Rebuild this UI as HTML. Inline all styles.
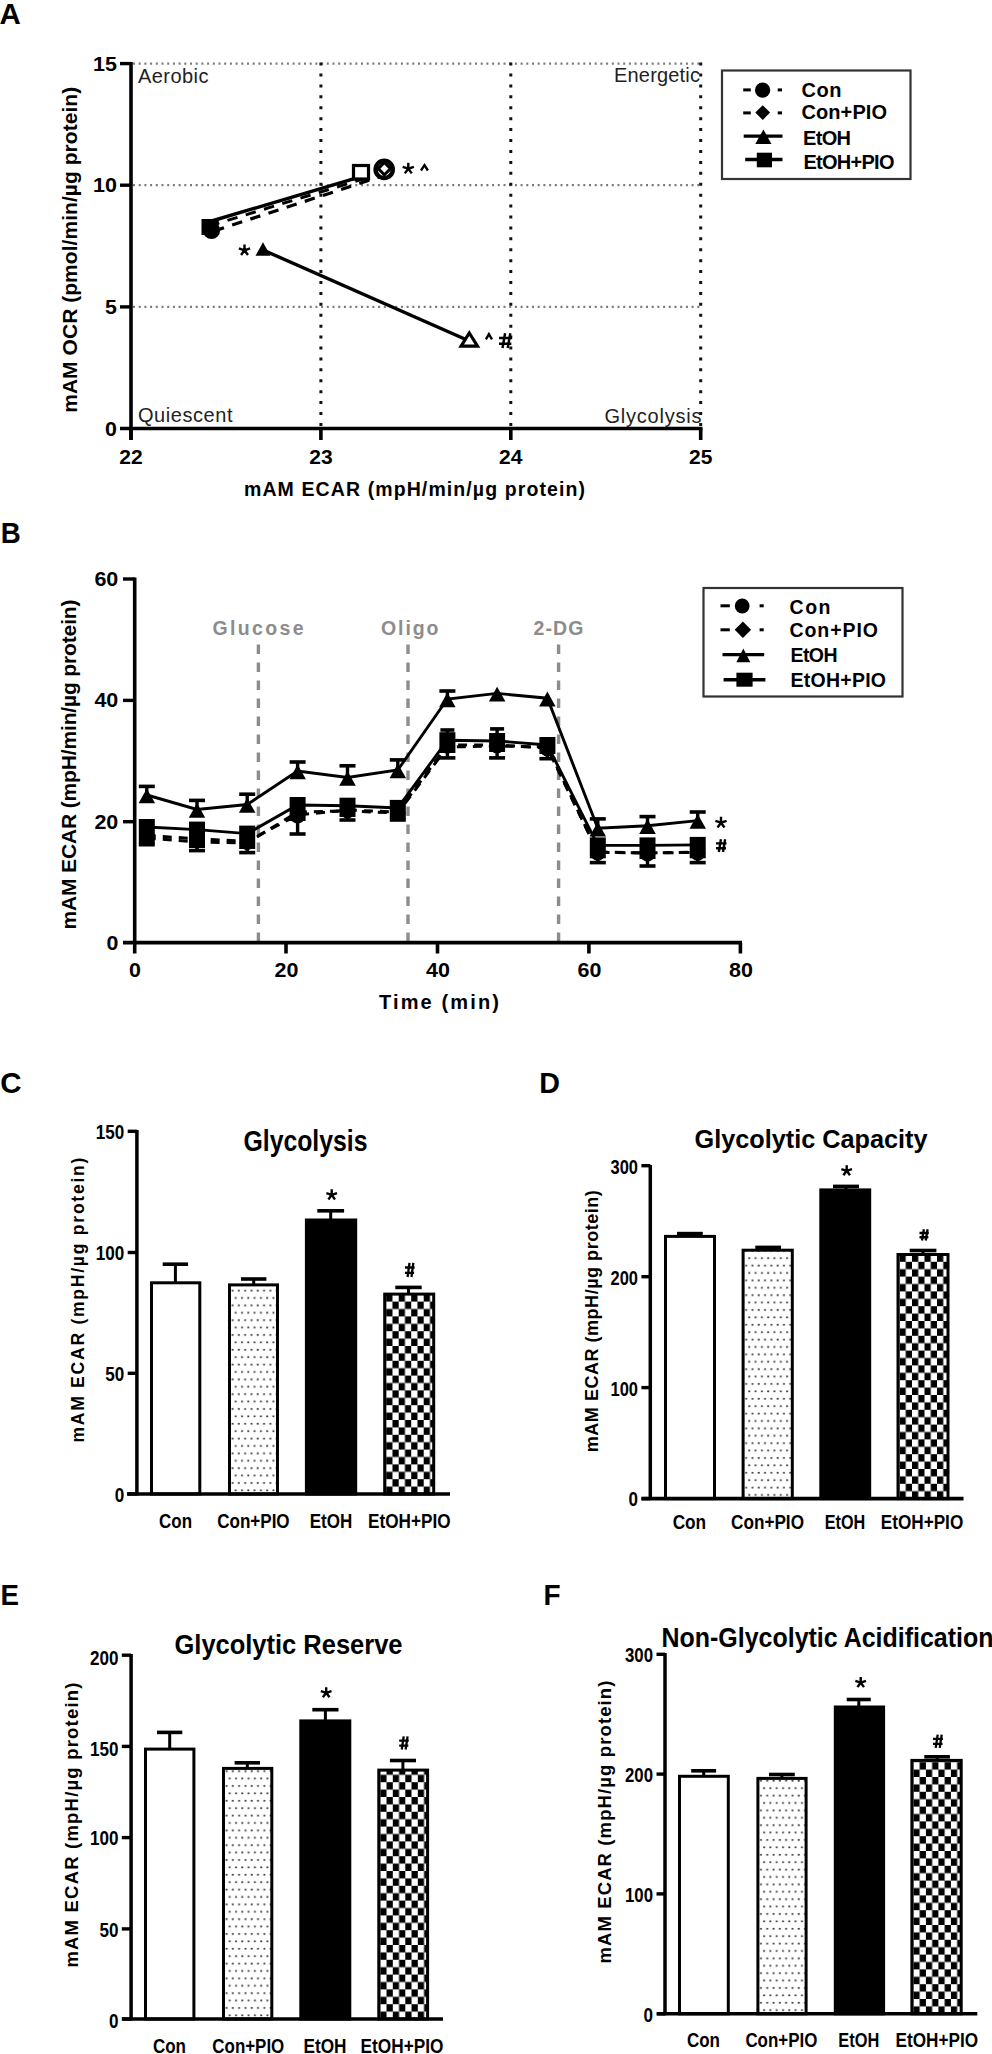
<!DOCTYPE html><html><head><meta charset="utf-8"><style>html,body{margin:0;padding:0;background:#fff;overflow:hidden}svg{display:block}text{font-family:"Liberation Sans",sans-serif;font-weight:bold}</style></head><body><svg width="992" height="2054" viewBox="0 0 992 2054"><defs><pattern id="pd1" patternUnits="userSpaceOnUse" x="231.00" y="1494.00" width="6.3" height="14.8"><rect x="0.6" y="2.9" width="1.9" height="1.7" fill="#3a3a3a"/><rect x="3.75" y="10.3" width="1.9" height="1.7" fill="#3a3a3a"/></pattern><pattern id="pc2" patternUnits="userSpaceOnUse" x="386.20" y="1494.00" width="12.5" height="14.8"><rect width="12.5" height="14.8" fill="#fff"/><rect x="6.25" y="0" width="6.25" height="7.4" fill="#000"/><rect x="0" y="7.4" width="6.25" height="7.4" fill="#000"/></pattern><pattern id="pd3" patternUnits="userSpaceOnUse" x="744.60" y="1498.60" width="6.3" height="14.8"><rect x="0.6" y="2.9" width="1.9" height="1.7" fill="#3a3a3a"/><rect x="3.75" y="10.3" width="1.9" height="1.7" fill="#3a3a3a"/></pattern><pattern id="pc4" patternUnits="userSpaceOnUse" x="899.50" y="1498.60" width="12.5" height="14.8"><rect width="12.5" height="14.8" fill="#fff"/><rect x="6.25" y="0" width="6.25" height="7.4" fill="#000"/><rect x="0" y="7.4" width="6.25" height="7.4" fill="#000"/></pattern><pattern id="pd5" patternUnits="userSpaceOnUse" x="225.00" y="2019.00" width="6.3" height="14.8"><rect x="0.6" y="2.9" width="1.9" height="1.7" fill="#3a3a3a"/><rect x="3.75" y="10.3" width="1.9" height="1.7" fill="#3a3a3a"/></pattern><pattern id="pc6" patternUnits="userSpaceOnUse" x="380.30" y="2019.00" width="12.5" height="14.8"><rect width="12.5" height="14.8" fill="#fff"/><rect x="6.25" y="0" width="6.25" height="7.4" fill="#000"/><rect x="0" y="7.4" width="6.25" height="7.4" fill="#000"/></pattern><pattern id="pd7" patternUnits="userSpaceOnUse" x="759.40" y="2013.80" width="6.3" height="14.8"><rect x="0.6" y="2.9" width="1.9" height="1.7" fill="#3a3a3a"/><rect x="3.75" y="10.3" width="1.9" height="1.7" fill="#3a3a3a"/></pattern><pattern id="pc8" patternUnits="userSpaceOnUse" x="913.40" y="2013.80" width="12.5" height="14.8"><rect width="12.5" height="14.8" fill="#fff"/><rect x="6.25" y="0" width="6.25" height="7.4" fill="#000"/><rect x="0" y="7.4" width="6.25" height="7.4" fill="#000"/></pattern></defs><text x="-0.5" y="23.6" font-size="29.5" textLength="21.3" lengthAdjust="spacingAndGlyphs">A</text>
<text x="0.8" y="543.0" font-size="29.5" textLength="20.0" lengthAdjust="spacingAndGlyphs">B</text>
<text x="0.3" y="1093.0" font-size="29.5" textLength="21.3" lengthAdjust="spacingAndGlyphs">C</text>
<text x="539.2" y="1093.0" font-size="29.5" textLength="20.7" lengthAdjust="spacingAndGlyphs">D</text>
<text x="0.5" y="1605.3" font-size="29.5" textLength="18.5" lengthAdjust="spacingAndGlyphs">E</text>
<text x="543.5" y="1605.3" font-size="29.5" textLength="17.1" lengthAdjust="spacingAndGlyphs">F</text>
<line x1="133.0" y1="63.6" x2="701.0" y2="63.6" stroke="#7a7a7a" stroke-width="2.2" stroke-dasharray="2 3.7"/>
<line x1="133.0" y1="185.2" x2="701.0" y2="185.2" stroke="#7a7a7a" stroke-width="2.2" stroke-dasharray="2 3.7"/>
<line x1="133.0" y1="306.9" x2="701.0" y2="306.9" stroke="#7a7a7a" stroke-width="2.2" stroke-dasharray="2 3.7"/>
<line x1="320.9" y1="62.6" x2="320.9" y2="427.0" stroke="#111" stroke-width="3.0" stroke-dasharray="3.0 7.92"/>
<line x1="510.8" y1="62.6" x2="510.8" y2="427.0" stroke="#111" stroke-width="3.0" stroke-dasharray="3.0 7.92"/>
<line x1="700.7" y1="62.6" x2="700.7" y2="427.0" stroke="#111" stroke-width="3.0" stroke-dasharray="3.0 7.92"/>
<line x1="131.0" y1="62.0" x2="131.0" y2="440.0" stroke="#000" stroke-width="3.6"/>
<line x1="120.0" y1="428.5" x2="702.5" y2="428.5" stroke="#000" stroke-width="3.6"/>
<line x1="120.0" y1="63.6" x2="131.0" y2="63.6" stroke="#000" stroke-width="3.4"/>
<line x1="120.0" y1="185.2" x2="131.0" y2="185.2" stroke="#000" stroke-width="3.4"/>
<line x1="120.0" y1="306.9" x2="131.0" y2="306.9" stroke="#000" stroke-width="3.4"/>
<line x1="131.0" y1="428.5" x2="131.0" y2="440.0" stroke="#000" stroke-width="3.6"/>
<line x1="320.9" y1="428.5" x2="320.9" y2="440.0" stroke="#000" stroke-width="3.6"/>
<line x1="510.8" y1="428.5" x2="510.8" y2="440.0" stroke="#000" stroke-width="3.6"/>
<line x1="700.7" y1="428.5" x2="700.7" y2="440.0" stroke="#000" stroke-width="3.6"/>
<text x="117.0" y="70.6" font-size="19.5" text-anchor="end" textLength="23.9" lengthAdjust="spacingAndGlyphs">15</text>
<text x="117.0" y="192.2" font-size="19.5" text-anchor="end" textLength="23.9" lengthAdjust="spacingAndGlyphs">10</text>
<text x="117.0" y="313.9" font-size="19.5" text-anchor="end" textLength="11.9" lengthAdjust="spacingAndGlyphs">5</text>
<text x="117.0" y="435.5" font-size="19.5" text-anchor="end" textLength="11.9" lengthAdjust="spacingAndGlyphs">0</text>
<text x="131.0" y="464.0" font-size="19.5" text-anchor="middle" textLength="23.4" lengthAdjust="spacingAndGlyphs">22</text>
<text x="320.9" y="464.0" font-size="19.5" text-anchor="middle" textLength="23.4" lengthAdjust="spacingAndGlyphs">23</text>
<text x="510.8" y="464.0" font-size="19.5" text-anchor="middle" textLength="23.4" lengthAdjust="spacingAndGlyphs">24</text>
<text x="700.7" y="464.0" font-size="19.5" text-anchor="middle" textLength="23.4" lengthAdjust="spacingAndGlyphs">25</text>
<text x="138.0" y="83.0" font-size="20" style="font-weight:normal" fill="#222" textLength="70.5" lengthAdjust="spacing">Aerobic</text>
<text x="614.0" y="82.0" font-size="20" style="font-weight:normal" fill="#222" textLength="86.0" lengthAdjust="spacing">Energetic</text>
<text x="138.0" y="422.0" font-size="20" style="font-weight:normal" fill="#222" textLength="94.5" lengthAdjust="spacing">Quiescent</text>
<text x="604.5" y="422.5" font-size="20" style="font-weight:normal" fill="#222" textLength="97.0" lengthAdjust="spacing">Glycolysis</text>
<text x="244.0" y="496.0" font-size="19.5" textLength="341.0" lengthAdjust="spacing">mAM ECAR (mpH/min/µg protein)</text>
<text x="77.2" y="412.8" font-size="21" textLength="326.0" lengthAdjust="spacing" transform="rotate(-90 77.2 412.8)">mAM OCR (pmol/min/µg protein)</text>
<line x1="214.0" y1="231.0" x2="384.0" y2="175.5" stroke="#000" stroke-width="3.2" stroke-dasharray="10.5 8.6"/>
<line x1="213.0" y1="224.8" x2="368.0" y2="177.5" stroke="#000" stroke-width="3.0" stroke-dasharray="10.5 8.6" stroke-dashoffset="4"/>
<line x1="210.0" y1="221.5" x2="361.0" y2="176.6" stroke="#000" stroke-width="3.4"/>
<line x1="263.0" y1="250.0" x2="469.3" y2="341.0" stroke="#000" stroke-width="3.4"/>
<rect x="201.5" y="219.0" width="17.0" height="16.0" fill="#000"/>
<circle cx="211.5" cy="230.4" r="8.6" fill="#000"/>
<path d="M263.0 242.2L270.5 255.7L255.5 255.7Z" fill="#000"/>
<rect x="353.5" y="165.5" width="15.0" height="13.5" fill="#fff" stroke="#000" stroke-width="3.2"/>
<circle cx="384.2" cy="169.4" r="8.6" fill="#fff" stroke="#000" stroke-width="4.4"/>
<path d="M384.4 162.4L390.6 168.6L384.4 174.8L378.2 168.6Z" fill="none" stroke="#000" stroke-width="3.0"/>
<path d="M469.3 333L477.5 346.2L461.1 346.2Z" fill="#fff" stroke="#000" stroke-width="3.2" stroke-linejoin="miter"/>
<path d="M408.30 168.60L408.30 162.70M408.30 168.60L413.91 166.78M408.30 168.60L411.77 173.37M408.30 168.60L404.83 173.37M408.30 168.60L402.69 166.78" stroke="#000" stroke-width="2.4" fill="none" stroke-linecap="butt"/>
<circle cx="408.30" cy="168.60" r="2.16" fill="#000"/>
<path d="M421.0 170.5L424.5 165.2L427.9 170.5" stroke="#000" stroke-width="2.4" fill="none"/>
<path d="M244.50 250.30L244.50 244.40M244.50 250.30L250.11 248.48M244.50 250.30L247.97 255.07M244.50 250.30L241.03 255.07M244.50 250.30L238.89 248.48" stroke="#000" stroke-width="2.4" fill="none" stroke-linecap="butt"/>
<circle cx="244.50" cy="250.30" r="2.16" fill="#000"/>
<path d="M485.9 339.3L488.9 334.2L492.0 339.3" stroke="#000" stroke-width="2.4" fill="none"/>
<path d="M505.11 333.20L502.51 348.00M510.31 333.20L507.71 348.00M499.00 338.08L512.00 338.08M499.00 343.71L511.35 343.71" stroke="#000" stroke-width="2.5" fill="none"/>
<rect x="722.0" y="70.5" width="188.5" height="108.5" fill="#fff" stroke="#333" stroke-width="2.2"/>
<line x1="743.2" y1="89.9" x2="750.8" y2="89.9" stroke="#000" stroke-width="3"/>
<circle cx="762.6" cy="90.2" r="7.6" fill="#000"/>
<line x1="777.7" y1="89.9" x2="782.0" y2="89.9" stroke="#000" stroke-width="3"/>
<line x1="743.2" y1="112.9" x2="750.8" y2="112.9" stroke="#000" stroke-width="3"/>
<path d="M762.7 105.2L770.1 112.6L762.7 120.0L755.3 112.6Z" fill="#000"/>
<line x1="777.7" y1="112.9" x2="782.0" y2="112.9" stroke="#000" stroke-width="3"/>
<line x1="743.7" y1="136.1" x2="782.5" y2="136.1" stroke="#000" stroke-width="3.2"/>
<path d="M763.4 129.5L771.5 144L755.3 144Z" fill="#000"/>
<line x1="745.2" y1="159.5" x2="782.5" y2="159.5" stroke="#000" stroke-width="3.4"/>
<rect x="756.8" y="152.7" width="15.2" height="14.6" fill="#000"/>
<text x="801.5" y="96.5" font-size="20" textLength="40.0" lengthAdjust="spacing">Con</text>
<text x="801.5" y="119.0" font-size="20" textLength="85.5" lengthAdjust="spacing">Con+PIO</text>
<text x="803.0" y="145.0" font-size="20" textLength="48.0" lengthAdjust="spacing">EtOH</text>
<text x="803.5" y="168.5" font-size="20" textLength="91.0" lengthAdjust="spacing">EtOH+PIO</text>
<line x1="258.4" y1="644.5" x2="258.4" y2="941.0" stroke="#8c8c8c" stroke-width="3.4" stroke-dasharray="9.5 8.5"/>
<line x1="408.0" y1="644.5" x2="408.0" y2="941.0" stroke="#8c8c8c" stroke-width="3.4" stroke-dasharray="9.5 8.5"/>
<line x1="558.6" y1="644.5" x2="558.6" y2="941.0" stroke="#8c8c8c" stroke-width="3.4" stroke-dasharray="9.5 8.5"/>
<text x="212.5" y="635.0" font-size="19.5" fill="#8c8c8c" textLength="91.0" lengthAdjust="spacing">Glucose</text>
<text x="381.0" y="635.0" font-size="19.5" fill="#8c8c8c" textLength="57.5" lengthAdjust="spacing">Oligo</text>
<text x="533.5" y="635.0" font-size="19.5" fill="#8c8c8c" textLength="50.0" lengthAdjust="spacing">2-DG</text>
<line x1="134.7" y1="577.5" x2="134.7" y2="953.5" stroke="#000" stroke-width="3.6"/>
<line x1="123.0" y1="942.6" x2="742.0" y2="942.6" stroke="#000" stroke-width="3.6"/>
<line x1="123.0" y1="579.0" x2="134.7" y2="579.0" stroke="#000" stroke-width="3.4"/>
<line x1="123.0" y1="700.4" x2="134.7" y2="700.4" stroke="#000" stroke-width="3.4"/>
<line x1="123.0" y1="821.7" x2="134.7" y2="821.7" stroke="#000" stroke-width="3.4"/>
<line x1="286.0" y1="942.6" x2="286.0" y2="953.5" stroke="#000" stroke-width="3.6"/>
<line x1="437.5" y1="942.6" x2="437.5" y2="953.5" stroke="#000" stroke-width="3.6"/>
<line x1="588.9" y1="942.6" x2="588.9" y2="953.5" stroke="#000" stroke-width="3.6"/>
<line x1="740.4" y1="942.6" x2="740.4" y2="953.5" stroke="#000" stroke-width="3.6"/>
<text x="118.3" y="586.0" font-size="19.5" text-anchor="end" textLength="23.9" lengthAdjust="spacingAndGlyphs">60</text>
<text x="118.3" y="707.4" font-size="19.5" text-anchor="end" textLength="23.9" lengthAdjust="spacingAndGlyphs">40</text>
<text x="118.3" y="828.7" font-size="19.5" text-anchor="end" textLength="23.9" lengthAdjust="spacingAndGlyphs">20</text>
<text x="118.3" y="950.0" font-size="19.5" text-anchor="end" textLength="11.9" lengthAdjust="spacingAndGlyphs">0</text>
<text x="135.0" y="977.0" font-size="19.5" text-anchor="middle" textLength="11.9" lengthAdjust="spacingAndGlyphs">0</text>
<text x="286.5" y="977.0" font-size="19.5" text-anchor="middle" textLength="23.9" lengthAdjust="spacingAndGlyphs">20</text>
<text x="438.0" y="977.0" font-size="19.5" text-anchor="middle" textLength="23.9" lengthAdjust="spacingAndGlyphs">40</text>
<text x="589.4" y="977.0" font-size="19.5" text-anchor="middle" textLength="23.9" lengthAdjust="spacingAndGlyphs">60</text>
<text x="740.9" y="977.0" font-size="19.5" text-anchor="middle" textLength="23.9" lengthAdjust="spacingAndGlyphs">80</text>
<text x="379.0" y="1009.0" font-size="20" textLength="120.0" lengthAdjust="spacing">Time (min)</text>
<text x="76.2" y="929.5" font-size="21" textLength="330.0" lengthAdjust="spacing" transform="rotate(-90 76.2 929.5)">mAM ECAR (mpH/min/µg protein)</text>
<path d="M146.8 835.5 L197.0 838.8 L247.2 841.4 L297.6 815.0 L347.5 810.0 L397.8 812.0 L447.4 745.0 L497.1 745.0 L547.4 748.0 L597.8 852.3 L647.5 853.0 L697.7 852.3" fill="none" stroke="#000" stroke-width="3.0" stroke-dasharray="9 7"/>
<path d="M146.8 838.0 L197.0 842.0 L247.2 843.0 L297.6 812.0 L347.5 811.0 L397.8 813.0 L447.4 747.0 L497.1 746.0 L547.4 747.0 L597.8 852.0 L647.5 853.0 L697.7 852.0" fill="none" stroke="#000" stroke-width="3.0" stroke-dasharray="9 7"/>
<path d="M146.8 827.0 L197.0 829.6 L247.2 833.6 L297.6 805.0 L347.5 805.7 L397.8 807.9 L447.4 740.2 L497.1 741.0 L547.4 745.0 L597.8 845.4 L647.5 845.4 L697.7 844.9" fill="none" stroke="#000" stroke-width="2.9"/>
<path d="M146.8 795.0 L197.0 809.5 L247.2 804.5 L297.6 771.0 L347.5 777.5 L397.8 770.0 L447.4 699.0 L497.1 693.4 L547.4 698.2 L597.8 828.3 L647.5 825.7 L697.7 820.6" fill="none" stroke="#000" stroke-width="2.9"/>
<line x1="146.8" y1="827.0" x2="146.8" y2="844.7" stroke="#000" stroke-width="3.4"/>
<line x1="138.8" y1="844.7" x2="154.8" y2="844.7" stroke="#000" stroke-width="3.6"/>
<line x1="146.8" y1="795.0" x2="146.8" y2="786.4" stroke="#000" stroke-width="3.4"/>
<line x1="138.8" y1="786.4" x2="154.8" y2="786.4" stroke="#000" stroke-width="3.6"/>
<circle cx="146.8" cy="836.5" r="7.5" fill="#000"/>
<path d="M146.8 830.0L154.8 838.0L146.8 846.0L138.8 838.0Z" fill="#000"/>
<rect x="138.8" y="819.0" width="16.0" height="25.0" fill="#000"/>
<path d="M146.8 788.4L155.1 803.2L138.6 803.2Z" fill="#000"/>
<line x1="197.0" y1="829.6" x2="197.0" y2="850.6" stroke="#000" stroke-width="3.4"/>
<line x1="189.0" y1="850.6" x2="205.0" y2="850.6" stroke="#000" stroke-width="3.6"/>
<line x1="197.0" y1="809.5" x2="197.0" y2="800.4" stroke="#000" stroke-width="3.4"/>
<line x1="189.0" y1="800.4" x2="205.0" y2="800.4" stroke="#000" stroke-width="3.6"/>
<circle cx="197.0" cy="839.8" r="7.5" fill="#000"/>
<path d="M197.0 834.0L205.0 842.0L197.0 850.0L189.0 842.0Z" fill="#000"/>
<rect x="189.0" y="821.6" width="16.0" height="26.4" fill="#000"/>
<path d="M197.0 802.9L205.2 817.7L188.8 817.7Z" fill="#000"/>
<line x1="247.2" y1="833.6" x2="247.2" y2="852.6" stroke="#000" stroke-width="3.4"/>
<line x1="239.2" y1="852.6" x2="255.2" y2="852.6" stroke="#000" stroke-width="3.6"/>
<line x1="247.2" y1="804.5" x2="247.2" y2="794.2" stroke="#000" stroke-width="3.4"/>
<line x1="239.2" y1="794.2" x2="255.2" y2="794.2" stroke="#000" stroke-width="3.6"/>
<circle cx="247.2" cy="842.4" r="7.5" fill="#000"/>
<path d="M247.2 835.0L255.2 843.0L247.2 851.0L239.2 843.0Z" fill="#000"/>
<rect x="239.2" y="825.6" width="16.0" height="23.4" fill="#000"/>
<path d="M247.2 797.9L255.4 812.7L238.9 812.7Z" fill="#000"/>
<line x1="297.6" y1="805.0" x2="297.6" y2="834.0" stroke="#000" stroke-width="3.4"/>
<line x1="289.6" y1="834.0" x2="305.6" y2="834.0" stroke="#000" stroke-width="3.6"/>
<line x1="297.6" y1="771.0" x2="297.6" y2="762.0" stroke="#000" stroke-width="3.4"/>
<line x1="289.6" y1="762.0" x2="305.6" y2="762.0" stroke="#000" stroke-width="3.6"/>
<circle cx="297.6" cy="816.0" r="7.5" fill="#000"/>
<path d="M297.6 804.0L305.6 812.0L297.6 820.0L289.6 812.0Z" fill="#000"/>
<rect x="289.6" y="797.0" width="16.0" height="24.0" fill="#000"/>
<path d="M297.6 764.4L305.9 779.2L289.4 779.2Z" fill="#000"/>
<line x1="347.5" y1="805.7" x2="347.5" y2="820.0" stroke="#000" stroke-width="3.4"/>
<line x1="339.5" y1="820.0" x2="355.5" y2="820.0" stroke="#000" stroke-width="3.6"/>
<line x1="347.5" y1="777.5" x2="347.5" y2="765.8" stroke="#000" stroke-width="3.4"/>
<line x1="339.5" y1="765.8" x2="355.5" y2="765.8" stroke="#000" stroke-width="3.6"/>
<circle cx="347.5" cy="811.0" r="7.5" fill="#000"/>
<path d="M347.5 803.0L355.5 811.0L347.5 819.0L339.5 811.0Z" fill="#000"/>
<rect x="339.5" y="797.7" width="16.0" height="19.3" fill="#000"/>
<path d="M347.5 770.9L355.8 785.7L339.2 785.7Z" fill="#000"/>
<line x1="397.8" y1="807.9" x2="397.8" y2="820.0" stroke="#000" stroke-width="3.4"/>
<line x1="389.8" y1="820.0" x2="405.8" y2="820.0" stroke="#000" stroke-width="3.6"/>
<line x1="397.8" y1="770.0" x2="397.8" y2="759.9" stroke="#000" stroke-width="3.4"/>
<line x1="389.8" y1="759.9" x2="405.8" y2="759.9" stroke="#000" stroke-width="3.6"/>
<circle cx="397.8" cy="813.0" r="7.5" fill="#000"/>
<path d="M397.8 805.0L405.8 813.0L397.8 821.0L389.8 813.0Z" fill="#000"/>
<rect x="389.8" y="799.9" width="16.0" height="19.1" fill="#000"/>
<path d="M397.8 763.4L406.1 778.2L389.6 778.2Z" fill="#000"/>
<line x1="447.4" y1="740.2" x2="447.4" y2="757.9" stroke="#000" stroke-width="3.4"/>
<line x1="439.4" y1="757.9" x2="455.4" y2="757.9" stroke="#000" stroke-width="3.6"/>
<line x1="447.4" y1="699.0" x2="447.4" y2="691.0" stroke="#000" stroke-width="3.4"/>
<line x1="439.4" y1="691.0" x2="455.4" y2="691.0" stroke="#000" stroke-width="3.6"/>
<line x1="447.4" y1="740.2" x2="447.4" y2="730.0" stroke="#000" stroke-width="3.4"/>
<line x1="440.4" y1="730.0" x2="454.4" y2="730.0" stroke="#000" stroke-width="3.6"/>
<circle cx="447.4" cy="746.0" r="7.5" fill="#000"/>
<path d="M447.4 739.0L455.4 747.0L447.4 755.0L439.4 747.0Z" fill="#000"/>
<rect x="439.4" y="732.2" width="16.0" height="20.8" fill="#000"/>
<path d="M447.4 692.4L455.6 707.2L439.1 707.2Z" fill="#000"/>
<line x1="497.1" y1="741.0" x2="497.1" y2="757.9" stroke="#000" stroke-width="3.4"/>
<line x1="489.1" y1="757.9" x2="505.1" y2="757.9" stroke="#000" stroke-width="3.6"/>
<line x1="497.1" y1="741.0" x2="497.1" y2="728.9" stroke="#000" stroke-width="3.4"/>
<line x1="490.1" y1="728.9" x2="504.1" y2="728.9" stroke="#000" stroke-width="3.6"/>
<circle cx="497.1" cy="746.0" r="7.5" fill="#000"/>
<path d="M497.1 738.0L505.1 746.0L497.1 754.0L489.1 746.0Z" fill="#000"/>
<rect x="489.1" y="733.0" width="16.0" height="19.0" fill="#000"/>
<path d="M497.1 686.8L505.4 701.6L488.9 701.6Z" fill="#000"/>
<line x1="547.4" y1="745.0" x2="547.4" y2="758.7" stroke="#000" stroke-width="3.4"/>
<line x1="539.4" y1="758.7" x2="555.4" y2="758.7" stroke="#000" stroke-width="3.6"/>
<circle cx="547.4" cy="749.0" r="7.5" fill="#000"/>
<path d="M547.4 739.0L555.4 747.0L547.4 755.0L539.4 747.0Z" fill="#000"/>
<rect x="539.4" y="737.0" width="16.0" height="17.0" fill="#000"/>
<path d="M547.4 691.6L555.6 706.4L539.1 706.4Z" fill="#000"/>
<line x1="597.8" y1="845.4" x2="597.8" y2="862.6" stroke="#000" stroke-width="3.4"/>
<line x1="589.8" y1="862.6" x2="605.8" y2="862.6" stroke="#000" stroke-width="3.6"/>
<line x1="597.8" y1="828.3" x2="597.8" y2="818.9" stroke="#000" stroke-width="3.4"/>
<line x1="589.8" y1="818.9" x2="605.8" y2="818.9" stroke="#000" stroke-width="3.6"/>
<circle cx="597.8" cy="853.3" r="7.5" fill="#000"/>
<path d="M597.8 844.0L605.8 852.0L597.8 860.0L589.8 852.0Z" fill="#000"/>
<rect x="589.8" y="837.4" width="16.0" height="20.9" fill="#000"/>
<path d="M597.8 821.7L606.0 836.5L589.5 836.5Z" fill="#000"/>
<line x1="647.5" y1="845.4" x2="647.5" y2="866.0" stroke="#000" stroke-width="3.4"/>
<line x1="639.5" y1="866.0" x2="655.5" y2="866.0" stroke="#000" stroke-width="3.6"/>
<line x1="647.5" y1="825.7" x2="647.5" y2="816.6" stroke="#000" stroke-width="3.4"/>
<line x1="639.5" y1="816.6" x2="655.5" y2="816.6" stroke="#000" stroke-width="3.6"/>
<circle cx="647.5" cy="854.0" r="7.5" fill="#000"/>
<path d="M647.5 845.0L655.5 853.0L647.5 861.0L639.5 853.0Z" fill="#000"/>
<rect x="639.5" y="837.4" width="16.0" height="21.6" fill="#000"/>
<path d="M647.5 819.1L655.8 833.9L639.2 833.9Z" fill="#000"/>
<line x1="697.7" y1="844.9" x2="697.7" y2="862.6" stroke="#000" stroke-width="3.4"/>
<line x1="689.7" y1="862.6" x2="705.7" y2="862.6" stroke="#000" stroke-width="3.6"/>
<line x1="697.7" y1="820.6" x2="697.7" y2="812.0" stroke="#000" stroke-width="3.4"/>
<line x1="689.7" y1="812.0" x2="705.7" y2="812.0" stroke="#000" stroke-width="3.6"/>
<circle cx="697.7" cy="853.3" r="7.5" fill="#000"/>
<path d="M697.7 844.0L705.7 852.0L697.7 860.0L689.7 852.0Z" fill="#000"/>
<rect x="689.7" y="836.9" width="16.0" height="21.4" fill="#000"/>
<path d="M697.7 814.0L706.0 828.8L689.5 828.8Z" fill="#000"/>
<path d="M721.00 822.70L721.00 816.80M721.00 822.70L726.61 820.88M721.00 822.70L724.47 827.47M721.00 822.70L717.53 827.47M721.00 822.70L715.39 820.88" stroke="#000" stroke-width="2.4" fill="none" stroke-linecap="butt"/>
<circle cx="721.00" cy="822.70" r="2.16" fill="#000"/>
<path d="M720.93 839.20L718.84 852.00M725.13 839.20L723.03 852.00M716.00 843.42L726.50 843.42M716.00 848.29L725.98 848.29" stroke="#000" stroke-width="2.4" fill="none"/>
<rect x="703.5" y="588.0" width="199.0" height="108.5" fill="#fff" stroke="#333" stroke-width="2.2"/>
<line x1="720.5" y1="605.8" x2="729.8" y2="605.8" stroke="#000" stroke-width="3"/>
<circle cx="742.2" cy="606.0" r="7.4" fill="#000"/>
<line x1="759.6" y1="605.8" x2="763.7" y2="605.8" stroke="#000" stroke-width="3"/>
<line x1="720.5" y1="629.8" x2="729.8" y2="629.8" stroke="#000" stroke-width="3"/>
<path d="M742.9 621.6L751.1 629.8L742.9 638.0L734.7 629.8Z" fill="#000"/>
<line x1="759.6" y1="629.8" x2="763.7" y2="629.8" stroke="#000" stroke-width="3"/>
<line x1="722.5" y1="654.7" x2="764.2" y2="654.7" stroke="#000" stroke-width="3.2"/>
<path d="M743.3 648.4L750.3 662.3L736.4 662.3Z" fill="#000"/>
<line x1="723.6" y1="679.7" x2="765.4" y2="679.7" stroke="#000" stroke-width="3.4"/>
<rect x="736.4" y="672.7" width="16.2" height="14.0" fill="#000"/>
<text x="789.5" y="613.6" font-size="19.5" textLength="41.0" lengthAdjust="spacing">Con</text>
<text x="789.5" y="636.8" font-size="19.5" textLength="88.5" lengthAdjust="spacing">Con+PIO</text>
<text x="790.5" y="662.3" font-size="19.5" textLength="47.0" lengthAdjust="spacing">EtOH</text>
<text x="790.5" y="686.5" font-size="19.5" textLength="95.5" lengthAdjust="spacing">EtOH+PIO</text>
<line x1="175.4" y1="1282.3" x2="175.4" y2="1264.2" stroke="#000" stroke-width="3.0"/>
<line x1="162.7" y1="1264.2" x2="188.1" y2="1264.2" stroke="#000" stroke-width="3.6"/>
<line x1="253.7" y1="1284.4" x2="253.7" y2="1279.0" stroke="#000" stroke-width="3.0"/>
<line x1="241.0" y1="1279.0" x2="266.4" y2="1279.0" stroke="#000" stroke-width="3.6"/>
<line x1="330.7" y1="1219.5" x2="330.7" y2="1210.8" stroke="#000" stroke-width="3.0"/>
<line x1="317.3" y1="1210.8" x2="344.1" y2="1210.8" stroke="#000" stroke-width="3.6"/>
<line x1="408.5" y1="1293.6" x2="408.5" y2="1287.4" stroke="#000" stroke-width="3.0"/>
<line x1="395.3" y1="1287.4" x2="421.7" y2="1287.4" stroke="#000" stroke-width="3.6"/>
<rect x="151.5" y="1282.8" width="48.3" height="211.2" fill="#fff" stroke="#000" stroke-width="3.0"/>
<rect x="229.5" y="1284.9" width="48.0" height="209.1" fill="#fff"/>
<rect x="229.5" y="1284.9" width="48.0" height="209.1" fill="url(#pd1)" stroke="#000" stroke-width="3.0"/>
<rect x="306.4" y="1220.0" width="49.3" height="274.0" fill="#000" stroke="#000" stroke-width="3.0"/>
<rect x="384.7" y="1294.1" width="49.0" height="199.9" fill="url(#pc2)" stroke="#000" stroke-width="3.0"/>
<line x1="136.9" y1="1130.0" x2="136.9" y2="1495.5" stroke="#000" stroke-width="3.5"/>
<line x1="127.0" y1="1494.0" x2="450.0" y2="1494.0" stroke="#000" stroke-width="3.6"/>
<line x1="127.7" y1="1131.3" x2="136.9" y2="1131.3" stroke="#000" stroke-width="3.4"/>
<text x="124.3" y="1139.0" font-size="19.5" text-anchor="end" textLength="28.5" lengthAdjust="spacingAndGlyphs">150</text>
<line x1="127.7" y1="1252.5" x2="136.9" y2="1252.5" stroke="#000" stroke-width="3.4"/>
<text x="124.3" y="1260.0" font-size="19.5" text-anchor="end" textLength="28.5" lengthAdjust="spacingAndGlyphs">100</text>
<line x1="127.7" y1="1373.3" x2="136.9" y2="1373.3" stroke="#000" stroke-width="3.4"/>
<text x="124.3" y="1381.0" font-size="19.5" text-anchor="end" textLength="19.0" lengthAdjust="spacingAndGlyphs">50</text>
<line x1="127.7" y1="1494.0" x2="136.9" y2="1494.0" stroke="#000" stroke-width="3.4"/>
<text x="124.3" y="1502.0" font-size="19.5" text-anchor="end" textLength="9.5" lengthAdjust="spacingAndGlyphs">0</text>
<text x="175.6" y="1528.0" font-size="20.5" text-anchor="middle" textLength="33.0" lengthAdjust="spacingAndGlyphs">Con</text>
<text x="253.4" y="1528.0" font-size="20.5" text-anchor="middle" textLength="72.5" lengthAdjust="spacingAndGlyphs">Con+PIO</text>
<text x="331.0" y="1528.0" font-size="20.5" text-anchor="middle" textLength="42.5" lengthAdjust="spacingAndGlyphs">EtOH</text>
<text x="409.3" y="1528.0" font-size="20.5" text-anchor="middle" textLength="82.5" lengthAdjust="spacingAndGlyphs">EtOH+PIO</text>
<text x="243.5" y="1150.5" font-size="29" textLength="124.0" lengthAdjust="spacingAndGlyphs">Glycolysis</text>
<text x="83.6" y="1442.6" font-size="17.5" textLength="285.0" lengthAdjust="spacing" transform="rotate(-90 83.6 1442.6)">mAM ECAR (mpH/µg protein)</text>
<path d="M331.70 1194.90L331.70 1189.30M331.70 1194.90L337.03 1193.17M331.70 1194.90L334.99 1199.43M331.70 1194.90L328.41 1199.43M331.70 1194.90L326.37 1193.17" stroke="#000" stroke-width="2.4" fill="none" stroke-linecap="butt"/>
<circle cx="331.70" cy="1194.90" r="2.16" fill="#000"/>
<path d="M409.51 1262.80L407.59 1277.00M413.35 1262.80L411.43 1277.00M405.00 1267.49L414.60 1267.49M405.00 1272.88L414.12 1272.88" stroke="#000" stroke-width="2.3" fill="none"/>
<line x1="689.9" y1="1235.9" x2="689.9" y2="1233.6" stroke="#000" stroke-width="3.0"/>
<line x1="677.0" y1="1233.6" x2="702.8" y2="1233.6" stroke="#000" stroke-width="3.6"/>
<line x1="768.1" y1="1249.7" x2="768.1" y2="1247.4" stroke="#000" stroke-width="3.0"/>
<line x1="755.3" y1="1247.4" x2="781.0" y2="1247.4" stroke="#000" stroke-width="3.6"/>
<line x1="846.0" y1="1189.4" x2="846.0" y2="1186.4" stroke="#000" stroke-width="3.0"/>
<line x1="833.0" y1="1186.4" x2="859.0" y2="1186.4" stroke="#000" stroke-width="3.6"/>
<line x1="923.0" y1="1254.0" x2="923.0" y2="1250.5" stroke="#000" stroke-width="3.0"/>
<line x1="909.7" y1="1250.5" x2="936.4" y2="1250.5" stroke="#000" stroke-width="3.6"/>
<rect x="665.5" y="1236.4" width="49.0" height="262.2" fill="#fff" stroke="#000" stroke-width="3.0"/>
<rect x="743.1" y="1250.2" width="49.2" height="248.4" fill="#fff"/>
<rect x="743.1" y="1250.2" width="49.2" height="248.4" fill="url(#pd3)" stroke="#000" stroke-width="3.0"/>
<rect x="820.8" y="1189.9" width="48.9" height="308.7" fill="#000" stroke="#000" stroke-width="3.0"/>
<rect x="898.0" y="1254.5" width="50.0" height="244.1" fill="url(#pc4)" stroke="#000" stroke-width="3.0"/>
<line x1="650.3" y1="1165.0" x2="650.3" y2="1500.1" stroke="#000" stroke-width="3.5"/>
<line x1="641.5" y1="1498.6" x2="963.5" y2="1498.6" stroke="#000" stroke-width="3.6"/>
<line x1="641.4" y1="1165.7" x2="650.3" y2="1165.7" stroke="#000" stroke-width="3.4"/>
<text x="638.0" y="1173.8" font-size="19.5" text-anchor="end" textLength="27.5" lengthAdjust="spacingAndGlyphs">300</text>
<line x1="641.4" y1="1276.7" x2="650.3" y2="1276.7" stroke="#000" stroke-width="3.4"/>
<text x="638.0" y="1284.7" font-size="19.5" text-anchor="end" textLength="27.5" lengthAdjust="spacingAndGlyphs">200</text>
<line x1="641.4" y1="1387.6" x2="650.3" y2="1387.6" stroke="#000" stroke-width="3.4"/>
<text x="638.0" y="1395.6" font-size="19.5" text-anchor="end" textLength="27.5" lengthAdjust="spacingAndGlyphs">100</text>
<line x1="641.4" y1="1498.6" x2="650.3" y2="1498.6" stroke="#000" stroke-width="3.4"/>
<text x="638.0" y="1506.0" font-size="19.5" text-anchor="end" textLength="9.5" lengthAdjust="spacingAndGlyphs">0</text>
<text x="689.4" y="1529.0" font-size="20.5" text-anchor="middle" textLength="33.5" lengthAdjust="spacingAndGlyphs">Con</text>
<text x="767.5" y="1529.0" font-size="20.5" text-anchor="middle" textLength="73.0" lengthAdjust="spacingAndGlyphs">Con+PIO</text>
<text x="845.0" y="1529.0" font-size="20.5" text-anchor="middle" textLength="40.5" lengthAdjust="spacingAndGlyphs">EtOH</text>
<text x="922.0" y="1529.0" font-size="20.5" text-anchor="middle" textLength="82.5" lengthAdjust="spacingAndGlyphs">EtOH+PIO</text>
<text x="694.5" y="1148.0" font-size="26.5" textLength="233.0" lengthAdjust="spacingAndGlyphs">Glycolytic Capacity</text>
<text x="598.5" y="1452.2" font-size="18" textLength="262.0" lengthAdjust="spacing" transform="rotate(-90 598.5 1452.2)">mAM ECAR (mpH/µg protein)</text>
<path d="M846.70 1170.80L846.70 1165.20M846.70 1170.80L852.03 1169.07M846.70 1170.80L849.99 1175.33M846.70 1170.80L843.41 1175.33M846.70 1170.80L841.37 1169.07" stroke="#000" stroke-width="2.4" fill="none" stroke-linecap="butt"/>
<circle cx="846.70" cy="1170.80" r="2.16" fill="#000"/>
<path d="M923.87 1229.30L922.01 1240.50M927.59 1229.30L925.73 1240.50M919.50 1233.00L928.80 1233.00M919.50 1237.25L928.33 1237.25" stroke="#000" stroke-width="2.3" fill="none"/>
<line x1="169.7" y1="1748.6" x2="169.7" y2="1732.4" stroke="#000" stroke-width="3.0"/>
<line x1="157.0" y1="1732.4" x2="182.3" y2="1732.4" stroke="#000" stroke-width="3.6"/>
<line x1="247.3" y1="1767.9" x2="247.3" y2="1762.8" stroke="#000" stroke-width="3.0"/>
<line x1="234.6" y1="1762.8" x2="260.0" y2="1762.8" stroke="#000" stroke-width="3.6"/>
<line x1="325.4" y1="1720.4" x2="325.4" y2="1709.7" stroke="#000" stroke-width="3.0"/>
<line x1="312.3" y1="1709.7" x2="338.5" y2="1709.7" stroke="#000" stroke-width="3.6"/>
<line x1="402.9" y1="1769.6" x2="402.9" y2="1760.5" stroke="#000" stroke-width="3.0"/>
<line x1="389.9" y1="1760.5" x2="416.0" y2="1760.5" stroke="#000" stroke-width="3.6"/>
<rect x="145.5" y="1749.1" width="48.4" height="269.9" fill="#fff" stroke="#000" stroke-width="3.0"/>
<rect x="223.5" y="1768.4" width="48.3" height="250.6" fill="#fff"/>
<rect x="223.5" y="1768.4" width="48.3" height="250.6" fill="url(#pd5)" stroke="#000" stroke-width="3.0"/>
<rect x="300.8" y="1720.9" width="49.0" height="298.1" fill="#000" stroke="#000" stroke-width="3.0"/>
<rect x="378.8" y="1770.1" width="48.8" height="248.9" fill="url(#pc6)" stroke="#000" stroke-width="3.0"/>
<line x1="131.1" y1="1654.0" x2="131.1" y2="2020.5" stroke="#000" stroke-width="3.5"/>
<line x1="122.3" y1="2019.0" x2="443.0" y2="2019.0" stroke="#000" stroke-width="3.6"/>
<line x1="121.8" y1="1655.2" x2="131.1" y2="1655.2" stroke="#000" stroke-width="3.4"/>
<text x="118.5" y="1665.3" font-size="19.5" text-anchor="end" textLength="28.5" lengthAdjust="spacingAndGlyphs">200</text>
<line x1="121.8" y1="1746.4" x2="131.1" y2="1746.4" stroke="#000" stroke-width="3.4"/>
<text x="118.5" y="1756.0" font-size="19.5" text-anchor="end" textLength="28.5" lengthAdjust="spacingAndGlyphs">150</text>
<line x1="121.8" y1="1837.6" x2="131.1" y2="1837.6" stroke="#000" stroke-width="3.4"/>
<text x="118.5" y="1845.3" font-size="19.5" text-anchor="end" textLength="28.5" lengthAdjust="spacingAndGlyphs">100</text>
<line x1="121.8" y1="1928.9" x2="131.1" y2="1928.9" stroke="#000" stroke-width="3.4"/>
<text x="118.5" y="1937.0" font-size="19.5" text-anchor="end" textLength="19.0" lengthAdjust="spacingAndGlyphs">50</text>
<line x1="121.8" y1="2019.0" x2="131.1" y2="2019.0" stroke="#000" stroke-width="3.4"/>
<text x="118.5" y="2028.0" font-size="19.5" text-anchor="end" textLength="9.5" lengthAdjust="spacingAndGlyphs">0</text>
<text x="169.5" y="2052.5" font-size="20.5" text-anchor="middle" textLength="33.0" lengthAdjust="spacingAndGlyphs">Con</text>
<text x="248.3" y="2052.5" font-size="20.5" text-anchor="middle" textLength="72.0" lengthAdjust="spacingAndGlyphs">Con+PIO</text>
<text x="325.0" y="2052.5" font-size="20.5" text-anchor="middle" textLength="43.0" lengthAdjust="spacingAndGlyphs">EtOH</text>
<text x="402.0" y="2052.5" font-size="20.5" text-anchor="middle" textLength="83.0" lengthAdjust="spacingAndGlyphs">EtOH+PIO</text>
<text x="174.5" y="1654.0" font-size="27.5" textLength="228.0" lengthAdjust="spacingAndGlyphs">Glycolytic Reserve</text>
<text x="78.3" y="1967.6" font-size="18.5" textLength="285.0" lengthAdjust="spacing" transform="rotate(-90 78.3 1967.6)">mAM ECAR (mpH/µg protein)</text>
<path d="M326.20 1692.80L326.20 1687.20M326.20 1692.80L331.53 1691.07M326.20 1692.80L329.49 1697.33M326.20 1692.80L322.91 1697.33M326.20 1692.80L320.87 1691.07" stroke="#000" stroke-width="2.4" fill="none" stroke-linecap="butt"/>
<circle cx="326.20" cy="1692.80" r="2.16" fill="#000"/>
<path d="M403.71 1736.30L401.79 1749.50M407.55 1736.30L405.63 1749.50M399.20 1740.66L408.80 1740.66M399.20 1745.67L408.32 1745.67" stroke="#000" stroke-width="2.3" fill="none"/>
<line x1="703.7" y1="1775.8" x2="703.7" y2="1770.8" stroke="#000" stroke-width="3.0"/>
<line x1="691.2" y1="1770.8" x2="716.1" y2="1770.8" stroke="#000" stroke-width="3.6"/>
<line x1="781.9" y1="1777.9" x2="781.9" y2="1774.5" stroke="#000" stroke-width="3.0"/>
<line x1="769.0" y1="1774.5" x2="794.8" y2="1774.5" stroke="#000" stroke-width="3.6"/>
<line x1="858.8" y1="1706.5" x2="858.8" y2="1699.5" stroke="#000" stroke-width="3.0"/>
<line x1="846.7" y1="1699.5" x2="870.8" y2="1699.5" stroke="#000" stroke-width="3.6"/>
<line x1="937.1" y1="1759.9" x2="937.1" y2="1756.8" stroke="#000" stroke-width="3.0"/>
<line x1="924.3" y1="1756.8" x2="949.9" y2="1756.8" stroke="#000" stroke-width="3.6"/>
<rect x="679.5" y="1776.3" width="48.8" height="237.5" fill="#fff" stroke="#000" stroke-width="3.0"/>
<rect x="757.9" y="1778.4" width="48.2" height="235.4" fill="#fff"/>
<rect x="757.9" y="1778.4" width="48.2" height="235.4" fill="url(#pd7)" stroke="#000" stroke-width="3.0"/>
<rect x="835.3" y="1707.0" width="48.3" height="306.8" fill="#000" stroke="#000" stroke-width="3.0"/>
<rect x="911.9" y="1760.4" width="49.3" height="253.4" fill="url(#pc8)" stroke="#000" stroke-width="3.0"/>
<line x1="665.0" y1="1653.0" x2="665.0" y2="2015.3" stroke="#000" stroke-width="3.5"/>
<line x1="657.3" y1="2013.8" x2="977.3" y2="2013.8" stroke="#000" stroke-width="3.6"/>
<line x1="656.5" y1="1654.3" x2="665.0" y2="1654.3" stroke="#000" stroke-width="3.4"/>
<text x="653.0" y="1661.5" font-size="19.5" text-anchor="end" textLength="28.0" lengthAdjust="spacingAndGlyphs">300</text>
<line x1="656.5" y1="1774.1" x2="665.0" y2="1774.1" stroke="#000" stroke-width="3.4"/>
<text x="653.0" y="1781.5" font-size="19.5" text-anchor="end" textLength="28.0" lengthAdjust="spacingAndGlyphs">200</text>
<line x1="656.5" y1="1893.9" x2="665.0" y2="1893.9" stroke="#000" stroke-width="3.4"/>
<text x="653.0" y="1901.5" font-size="19.5" text-anchor="end" textLength="28.0" lengthAdjust="spacingAndGlyphs">100</text>
<line x1="656.5" y1="2013.8" x2="665.0" y2="2013.8" stroke="#000" stroke-width="3.4"/>
<text x="653.0" y="2021.5" font-size="19.5" text-anchor="end" textLength="9.5" lengthAdjust="spacingAndGlyphs">0</text>
<text x="703.5" y="2047.0" font-size="20.5" text-anchor="middle" textLength="33.0" lengthAdjust="spacingAndGlyphs">Con</text>
<text x="781.4" y="2047.0" font-size="20.5" text-anchor="middle" textLength="72.0" lengthAdjust="spacingAndGlyphs">Con+PIO</text>
<text x="858.8" y="2047.0" font-size="20.5" text-anchor="middle" textLength="41.0" lengthAdjust="spacingAndGlyphs">EtOH</text>
<text x="936.8" y="2047.0" font-size="20.5" text-anchor="middle" textLength="82.5" lengthAdjust="spacingAndGlyphs">EtOH+PIO</text>
<text x="661.5" y="1647.3" font-size="28" textLength="332.0" lengthAdjust="spacingAndGlyphs">Non-Glycolytic Acidification</text>
<text x="611.3" y="1963.6" font-size="18.5" textLength="283.0" lengthAdjust="spacing" transform="rotate(-90 611.3 1963.6)">mAM ECAR (mpH/µg protein)</text>
<path d="M860.70 1682.60L860.70 1677.00M860.70 1682.60L866.03 1680.87M860.70 1682.60L863.99 1687.13M860.70 1682.60L857.41 1687.13M860.70 1682.60L855.37 1680.87" stroke="#000" stroke-width="2.4" fill="none" stroke-linecap="butt"/>
<circle cx="860.70" cy="1682.60" r="2.16" fill="#000"/>
<path d="M937.70 1734.60L935.70 1747.80M941.70 1734.60L939.70 1747.80M933.00 1738.96L943.00 1738.96M933.00 1743.97L942.50 1743.97" stroke="#000" stroke-width="2.3" fill="none"/></svg></body></html>
